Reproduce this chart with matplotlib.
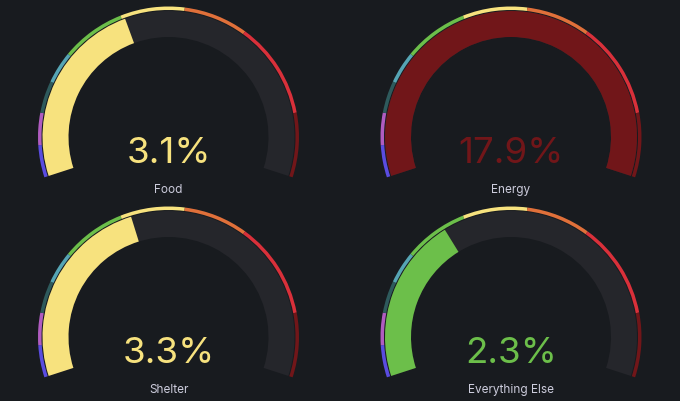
import numpy as np
import matplotlib.pyplot as plt
from matplotlib.patches import Wedge

# panel data
names = ['Food', 'Energy', 'Shelter', 'Everything Else']
values = [3.1, 17.9, 3.3, 2.3]

# gauge range and threshold steps
gauge_min, gauge_max = -3, 12
thresholds = [-3, -2, -1, 0, 1, 3, 5, 7, 10]
step_colors = ['#5a4ce0', '#b05cc0', '#2e5a5c', '#56a5b4', '#6cbf4a',
               '#f7e27e', '#e0703a', '#d9303a', '#711619']

bg = '#181b1f'
track = '#25262b'

# layout (pixels, y up)
centers = [(168.5, 264), (511, 264), (168.5, 64), (511, 64)]
r_out = 130.5
band_w = 3.5
fill_out = 126
fill_w = 26
a_start, a_end = 198, -18


def to_angle(v):
    v = np.clip(v, gauge_min, gauge_max)
    return a_start - (a_start - a_end) * (v - gauge_min) / (gauge_max - gauge_min)


def value_color(v):
    idx = np.searchsorted(thresholds, v, side='right') - 1
    return step_colors[max(idx, 0)]


fig = plt.figure(figsize=(6.8, 4.02), dpi=100)
fig.patch.set_facecolor(bg)
ax = fig.add_axes([0, 0, 1, 1])
ax.set_xlim(0, 680)
ax.set_ylim(0, 402)
ax.set_aspect('equal')
ax.axis('off')
ax.set_facecolor(bg)

for (cx, cy), name, val in zip(centers, names, values):
    # threshold band
    edges = thresholds + [gauge_max]
    for i, col in enumerate(step_colors):
        t1 = to_angle(edges[i + 1])
        t2 = to_angle(edges[i])
        ax.add_patch(Wedge((cx, cy), r_out, t1, t2, width=band_w,
                           facecolor=col, edgecolor='none'))
    # track and value fill
    ax.add_patch(Wedge((cx, cy), fill_out, a_end, a_start, width=fill_w,
                       facecolor=track, edgecolor='none'))
    col = value_color(val)
    ax.add_patch(Wedge((cx, cy), fill_out, to_angle(val), a_start, width=fill_w,
                       facecolor=col, edgecolor='none'))
    ax.text(cx, cy - 25.3, f'{val}%', color=col, fontsize=26.5,
            family=['Inter', 'DejaVu Sans'], ha='center', va='baseline')
    ax.text(cx, cy - 54.7, name, color='#ccccdc', fontsize=8.5,
            family=['Inter', 'DejaVu Sans'], ha='center', va='baseline')

fig.savefig('out.png', dpi=100, facecolor=bg)
